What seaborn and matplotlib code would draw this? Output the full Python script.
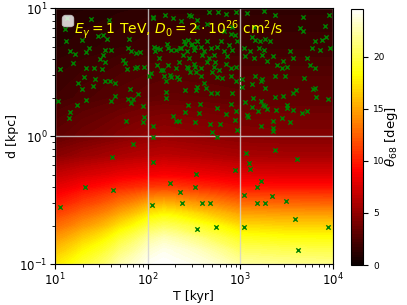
import matplotlib.pyplot as plt
import numpy as np
import seaborn as sns

# grid of the 68% containment angle [deg], rows = distance, cols = age
T_GRID = [10, 20, 50, 100, 150, 200, 500, 1000, 3000, 10000]
D_GRID = [0.1, 0.13, 0.16, 0.2, 0.25, 0.3, 0.4, 0.5, 0.7, 1, 2, 5, 10]
THETA = [
    [17.5, 19.5, 22.5, 24.3, 24.6, 24.4, 23.5, 22.2, 21.8, 21.6],
    [16.0, 18.0, 21.0, 23.3, 24.0, 23.7, 22.2, 20.5, 20.2, 20.0],
    [14.5, 16.5, 19.5, 22.0, 22.8, 22.4, 20.5, 19.0, 18.6, 18.5],
    [12.8, 14.5, 17.3, 19.8, 20.5, 20.2, 18.5, 17.0, 16.7, 16.6],
    [11.2, 12.7, 15.0, 17.3, 18.0, 17.7, 16.0, 14.8, 14.6, 14.5],
    [9.8, 11.2, 13.2, 15.0, 15.5, 15.2, 13.8, 12.8, 12.6, 12.5],
    [8.0, 9.0, 10.2, 10.9, 11.1, 11.0, 10.2, 9.6, 9.5, 9.5],
    [6.8, 7.5, 8.2, 8.6, 8.8, 8.7, 8.2, 7.8, 7.7, 7.7],
    [4.6, 5.3, 6.0, 6.4, 6.6, 6.5, 6.1, 5.8, 5.7, 5.7],
    [3.1, 3.7, 4.4, 4.9, 5.1, 5.0, 4.7, 4.5, 4.4, 4.4],
    [2.0, 2.4, 2.9, 3.2, 3.3, 3.3, 3.2, 3.1, 3.1, 3.1],
    [1.2, 1.4, 1.7, 1.9, 2.0, 2.0, 1.95, 1.9, 1.9, 1.9],
    [0.8, 0.95, 1.15, 1.3, 1.35, 1.35, 1.35, 1.35, 1.35, 1.35],
]
THETA_MAX = 24.6

# pulsars: age [kyr], distance [kpc]
age_young = [13.6, 24.8, 38.1, 12.8, 29.5, 33.1, 36.8, 13.0, 19.8, 23.6, 62.5, 14.7,
             16.4, 21.4, 34.5, 33.1, 40, 61, 65.6, 74.3, 82, 31, 34.5, 15.5, 54.3, 56.6,
             76.7, 91, 11.3, 21.4, 26.2, 31.8, 60.4, 72.4]
dist_young = [8.45, 8.2, 8.1, 6.9, 6.1, 6.2, 5.75, 5.56, 5.62, 4.93, 5.75, 4.64,
              4.37, 4.53, 4.7, 4.32, 4.72, 4.93, 4.64, 4.51, 4.58, 4.02, 3.78, 3.72, 3.94, 3.77,
              3.5, 3.5, 3.36, 3.4, 3.4, 3.33, 3.33, 3.4]

age_mid = [115, 154, 189, 291, 338, 117, 125, 120, 136, 160, 177, 205, 223, 253, 275,
           299, 324, 338, 243, 125, 148, 174, 206, 110, 275, 286, 324,
           113, 281, 460, 575, 695, 891, 228, 442, 345, 820, 869, 787, 667, 133, 164,
           228, 248, 269, 292, 318, 345, 374, 406, 442, 480, 521, 566, 615, 667, 755,
           820, 929, 164, 202, 219, 269, 318, 374, 442, 521, 590, 695, 787, 891, 140,
           390, 460, 540, 725, 281, 330, 500]
dist_mid = [8.5, 8.9, 8.4, 8.7, 8.1, 5.0, 4.9, 4.6, 4.8, 5.3, 4.7, 4.7, 4.9, 5.3, 5.7,
            5.3, 5.0, 5.5, 4.3, 3.6, 3.3, 3.0, 2.9, 3.1, 3.4, 3.2, 3.5,
            8.4, 8.8, 9.3, 9.3, 9.0, 9.4, 7.9, 7.5, 7.2, 7.2, 6.2, 6.3, 6.6, 4.1, 4.9,
            4.9, 5.5, 4.6, 5.2, 4.7, 5.5, 5.0, 4.6, 5.5, 4.9, 4.3, 5.0, 5.5, 4.6, 5.2,
            4.7, 5.5, 3.6, 3.4, 3.8, 3.5, 3.7, 3.4, 3.8, 3.5, 3.3, 3.7, 3.4, 3.5, 3.3,
            4.3, 4.1, 3.8, 4.2, 4.1, 3.2, 3.2]

age_old = [1180, 1782, 2377, 9140, 4720, 1390, 1334, 1449, 1641, 1857, 2102, 1574,
           1782, 1282, 1086, 1132, 1390, 1710, 1936, 2281, 2477, 2803, 3175, 3450,
           3743, 4416, 4800, 6400, 7550, 5900, 7250, 9290, 5210, 5660, 6400, 2922,
           8130, 8500]
dist_old = [9.1, 9.5, 8.9, 8.9, 8.5, 7.2, 6.0, 5.7, 5.5, 5.8, 5.5, 4.9,
            4.7, 4.6, 4.9, 4.2, 4.1, 4.3, 3.9, 4.2, 3.6, 3.4, 3.5, 4.6,
            4.1, 7.0, 6.6, 5.5, 5.6, 4.9, 4.7, 4.9, 4.1, 3.6, 3.4, 3.9,
            7.3, 6.0]

age_near = [20.7, 26.9, 35.1, 39, 44.2, 17.8, 19.7, 25.8, 64, 78.7, 44.2, 61.5, 69.5,
            65.6, 40.6, 21.9, 10.7, 17.4, 14.5, 14.2, 59, 89.1, 91.4, 89.1,
            104, 151, 178, 157, 219, 374, 406, 424, 345, 331, 566, 640, 787, 891, 252,
            157, 157, 480, 566, 820, 276, 368, 566, 787, 252, 359, 695, 891, 186, 202,
            219, 326, 472, 604, 869, 113, 492, 914, 113, 557,
            1042, 1449, 1710, 1667, 2377, 3050, 4920, 1334, 1857, 1042, 6400, 6040, 3743,
            3999, 2876, 2377, 1368, 6560, 8770, 1113, 1682, 1754, 1857, 1936, 1334, 1535,
            2438, 3175, 3228, 3683, 5210, 4600, 1180, 1199, 2803, 3450, 1667, 2245, 2245,
            2281]
dist_near = [2.89, 2.81, 2.69, 2.72, 2.59, 2.59, 2.34, 2.49, 2.34, 2.14, 2.08, 1.96, 1.96,
             1.81, 1.88, 1.92, 1.88, 1.77, 1.54, 1.39, 1.32, 1.71, 1.41, 1.29,
             2.98, 2.98, 2.89, 2.69, 2.81, 2.98, 2.59, 2.39, 2.44, 2.28, 2.89, 2.86, 2.98, 2.72, 2.28,
             2.21, 1.99, 2.17, 2.17, 2.17, 1.76, 1.79, 1.66, 1.79, 1.54, 1.51, 1.49, 1.57, 1.45, 1.31,
             1.31, 1.30, 1.25, 1.25, 1.35, 1.21, 1.09, 1.12, 0.99, 0.99,
             2.81, 2.98, 2.81, 2.69, 2.98, 2.98, 2.84, 2.56, 2.39, 2.44, 2.39, 2.34, 2.17,
             2.28, 2.08, 2.04, 1.99, 2.02, 1.96, 1.87, 1.88, 1.77, 1.71, 1.64, 1.69, 1.59,
             1.61, 1.77, 1.66, 1.61, 1.59, 1.51, 1.48, 1.41, 1.39, 1.30, 1.21, 1.32, 1.17,
             1.11]

age_close = [69, 40.8, 113, 21, 42.5, 11.3, 173, 222, 234, 112, 336, 325, 341, 1143, 1241,
             1262, 2350, 4080, 877, 1660, 1514, 1097, 2198, 3083, 1514, 1832, 391, 468,
             3880, 552, 1107, 8810, 4230]
dist_close = [0.87, 0.69, 0.63, 0.40, 0.38, 0.28, 0.43, 0.37, 0.30, 0.29, 0.51, 0.40, 0.19,
              0.74, 0.62, 0.56, 0.78, 0.66, 0.55, 0.45, 0.40, 0.35, 0.34, 0.31, 0.30, 0.30,
              0.30, 0.30, 0.227, 0.197, 0.197, 0.197, 0.129]

ages = age_young + age_mid + age_old + age_near + age_close
dists = dist_young + dist_mid + dist_old + dist_near + dist_close

fig = plt.figure(figsize=(4.07, 3.05), dpi=100)
ax = fig.add_axes([0.135, 0.133, 0.683, 0.840])
cax = fig.add_axes([0.862, 0.131, 0.031, 0.840])

cf = ax.contourf(T_GRID, D_GRID, np.array(THETA), levels=np.linspace(0, THETA_MAX, 100),
                 cmap='hot', vmin=0, vmax=THETA_MAX)
sns.scatterplot(x=ages, y=dists, ax=ax, marker='x', color='green', s=10, linewidth=1, zorder=3)

ax.set_xscale('log')
ax.set_yscale('log')
ax.set_xlim(10, 1e4)
ax.set_ylim(0.1, 10)
ax.grid(True, which='major', color='lightgray', alpha=0.8, lw=1)
ax.set_xlabel('T [kyr]', fontsize=9, labelpad=1)
ax.set_ylabel('d [kpc]', fontsize=9, labelpad=0)
ax.tick_params(axis='both', which='major', labelsize=8.5, pad=2)

ax.text(0.07, 0.915, r'$E_\gamma = 1$ TeV, $D_0 = 2\cdot10^{26}$ cm$^2$/s',
        color='yellow', fontsize=10, transform=ax.transAxes, va='center')
ax.legend(handles=[], labels=[], loc='upper left')

cbar = fig.colorbar(cf, cax=cax, ticks=[0, 5, 10, 15, 20])
cbar.ax.tick_params(labelsize=6.5)
cbar.set_label(r'$\theta_{68}$ [deg]', fontsize=9.5, labelpad=-1)

plt.savefig('out.png', dpi=100)
